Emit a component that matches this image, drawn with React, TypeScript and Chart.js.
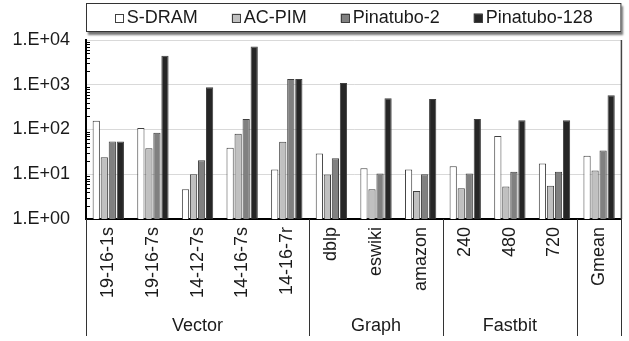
import React, { useEffect, useRef } from "react";
import { Chart, registerables } from "chart.js";

Chart.register(...registerables);

const categories = ["19-16-1s", "19-16-7s", "14-12-7s", "14-16-7s", "14-16-7r", "dblp", "eswiki", "amazon", "240", "480", "720", "Gmean"];
const groupNames = ["Vector", "Graph", "Fastbit", ""];
const groupSizes = [5, 3, 3, 1];
const seriesNames = ["S-DRAM", "AC-PIM", "Pinatubo-2", "Pinatubo-128"];
const sDram = [157, 108, 4.6, 39, 12.8, 29, 13.6, 12.8, 15.1, 72, 17.3, 26];
const acPim = [24, 38, 10, 80, 53, 9.9, 4.6, 4.2, 4.85, 5.3, 5.5, 12.1];
const pinatubo2 = [54, 85, 20.5, 172, 1337, 22.7, 10.4, 10, 10.4, 11.3, 11.3, 34];
const pinatubo128 = [54, 4470, 876, 7180, 1337, 1090, 500, 483, 172, 160, 160, 583];
const yTicks = [1, 10, 100, 1000, 10000];

const colors = ["#ffffff", "#c0c0c0", "#808080", "#262626"];
const FONT = "Liberation Sans, Arial, sans-serif";

export default function App() {
  const ref = useRef<HTMLCanvasElement | null>(null);
  useEffect(() => {
    document.body.style.margin = "0";
    const canvas = ref.current;
    if (!canvas) return;
    const values = [sDram, acPim, pinatubo2, pinatubo128];

    const decor = {
      id: "decor",
      afterDraw(chart: any) {
        const ctx = chart.ctx;
        const area = chart.chartArea;
        const x = chart.scales.x;
        const y = chart.scales.y;
        ctx.save();
        // minor ticks on y axis
        ctx.strokeStyle = "#000";
        ctx.lineWidth = 1;
        for (let d = 0; d < 4; d++) {
          for (let k = 2; k <= 9; k++) {
            const py = Math.round(y.getPixelForValue(k * Math.pow(10, d))) + 0.5;
            ctx.beginPath();
            ctx.moveTo(area.left, py);
            ctx.lineTo(area.left + 4, py);
            ctx.stroke();
          }
        }
        // right border
        ctx.strokeStyle = "#444";
        ctx.lineWidth = 1.5;
        ctx.beginPath();
        ctx.moveTo(area.right, area.top);
        ctx.lineTo(area.right, area.bottom);
        ctx.stroke();
        // group separators and labels
        const boundaries: number[] = [area.left];
        let idx = 0;
        groupSizes.forEach((s) => {
          idx += s;
          if (idx >= categories.length) boundaries.push(area.right);
          else boundaries.push((x.getPixelForValue(idx - 1) + x.getPixelForValue(idx)) / 2);
        });
        ctx.strokeStyle = "#333";
        ctx.lineWidth = 1;
        boundaries.forEach((bx) => {
          const px = Math.round(bx) + 0.5;
          ctx.beginPath();
          ctx.moveTo(px, area.bottom);
          ctx.lineTo(px, 336);
          ctx.stroke();
        });
        ctx.fillStyle = "#1a1a1a";
        ctx.font = `18px ${FONT}`;
        ctx.textAlign = "center";
        ctx.textBaseline = "middle";
        groupNames.forEach((g, i) => {
          if (!g) return;
          ctx.fillText(g, (boundaries[i] + boundaries[i + 1]) / 2, 326);
        });
        // legend box
        const bx0 = area.left, bx1 = area.right, by0 = 3, by1 = 32;
        ctx.save();
        ctx.shadowColor = "rgba(0,0,0,0.55)";
        ctx.shadowOffsetX = 2;
        ctx.shadowOffsetY = 3;
        ctx.shadowBlur = 2;
        ctx.fillStyle = "#fff";
        ctx.fillRect(bx0, by0, bx1 - bx0, by1 - by0);
        ctx.restore();
        ctx.strokeStyle = "#333";
        ctx.lineWidth = 1;
        ctx.strokeRect(bx0 + 0.5, by0 + 0.5, bx1 - bx0 - 1, by1 - by0 - 1);
        ctx.font = `18px ${FONT}`;
        const sq = 9, gapSq = 3, gapItem = 34;
        const widths = seriesNames.map((n) => sq + gapSq + ctx.measureText(n).width);
        const total = widths.reduce((a, b) => a + b, 0) + gapItem * (seriesNames.length - 1);
        let cx = (bx0 + bx1) / 2 - total / 2;
        const cy = (by0 + by1) / 2 + 0.5;
        ctx.textAlign = "left";
        ctx.textBaseline = "middle";
        seriesNames.forEach((n, i) => {
          ctx.fillStyle = colors[i];
          ctx.fillRect(cx, cy - sq / 2, sq, sq);
          ctx.strokeStyle = "#404040";
          ctx.strokeRect(Math.round(cx) + 0.5, Math.round(cy - sq / 2) + 0.5, sq - 1, sq - 1);
          ctx.fillStyle = "#1a1a1a";
          ctx.fillText(n, cx + sq + gapSq, cy);
          cx += widths[i] + gapItem;
        });
        ctx.restore();
      },
    };

    const chart = new Chart(canvas, {
      type: "bar",
      data: {
        labels: categories,
        datasets: seriesNames.map((name, i) => ({
          label: name,
          data: values[i],
          backgroundColor: colors[i],
          borderColor: "#404040",
          borderWidth: 1,
          categoryPercentage: 0.72,
          barPercentage: 0.9,
        })),
      },
      options: {
        responsive: false,
        animation: false,
        devicePixelRatio: 1,
        layout: { padding: { top: 40, right: 7, left: 0, bottom: 0 } },
        plugins: { legend: { display: false }, tooltip: { enabled: false } },
        scales: {
          x: {
            grid: { display: false, drawTicks: false },
            border: { display: true, color: "#000", width: 2 },
            ticks: {
              maxRotation: 90,
              minRotation: 90,
              padding: 8,
              color: "#1a1a1a",
              font: { family: FONT, size: 18 },
              autoSkip: false,
            },
            afterFit: (s: any) => { s.height = 122; },
          },
          y: {
            type: "logarithmic",
            min: 1,
            max: 10000,
            grid: { color: "#d9d9d9", lineWidth: 1, drawTicks: false },
            border: { display: true, color: "#000", width: 2 },
            ticks: {
              padding: 16,
              color: "#1a1a1a",
              font: { family: FONT, size: 18 },
              callback: (v: any) => {
                const e = Math.round(Math.log10(Number(v)));
                return `1.E+${String(e).padStart(2, "0")}`;
              },
            },
            afterBuildTicks: (s: any) => { s.ticks = yTicks.map((v) => ({ value: v })); },
            afterFit: (s: any) => { s.width = 86; },
          },
        },
      },
      plugins: [decor],
    });
    return () => chart.destroy();
  }, []);
  return (
    <div style={{ width: 629, height: 341, position: "fixed", left: 0, top: 0, background: "#fff" }}>
      <canvas ref={ref} width={629} height={341} style={{ display: "block" }} />
    </div>
  );
}
